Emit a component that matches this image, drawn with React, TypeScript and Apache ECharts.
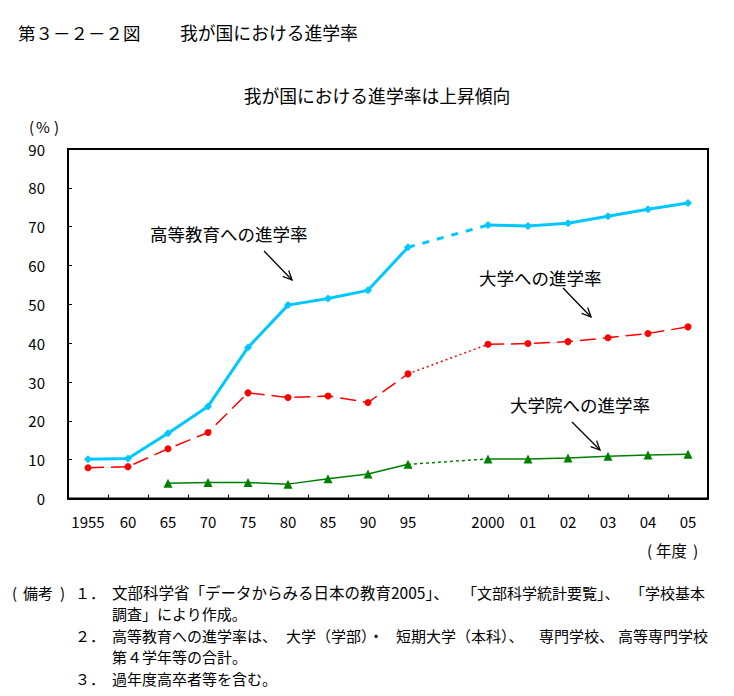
import React, { useEffect, useRef } from "react";
import * as echarts from "echarts";

const categories = ["1955", "60", "65", "70", "75", "80", "85", "90", "95", "", "2000", "01", "02", "03", "04", "05"];
const higherEducation = [10.1, 10.3, 16.8, 23.7, 38.9, 49.8, 51.5, 53.6, 64.7, null, 70.4, 70.2, 70.9, 72.7, 74.5, 76.1];
const university = [7.9, 8.2, 12.8, 17.0, 27.2, 26.0, 26.4, 24.7, 32.1, null, 39.7, 39.9, 40.4, 41.4, 42.5, 44.2];
const graduate = [null, null, 3.9, 4.1, 4.1, 3.7, 5.1, 6.3, 8.8, null, 10.2, 10.2, 10.4, 10.9, 11.2, 11.4];
const yTicks = [0, 10, 20, 30, 40, 50, 60, 70, 80, 90];

const FONT = "'Noto Sans CJK JP', 'Noto Sans', sans-serif";

// segment bridging the 1995 -> 2000 gap (index 8 -> index 10)
function gapSegment(arr: (number | null)[]) {
  return arr.map((v, i) => (i === 8 || i === 10 ? v : null));
}

function arrow(x1: number, y1: number, x2: number, y2: number) {
  const ang = Math.atan2(y2 - y1, x2 - x1);
  const len = 10;
  const a = (25 * Math.PI) / 180;
  const p1 = [x2 - len * Math.cos(ang - a), y2 - len * Math.sin(ang - a)];
  const p2 = [x2 - len * Math.cos(ang + a), y2 - len * Math.sin(ang + a)];
  return [
    { type: "line", shape: { x1, y1, x2, y2 }, style: { stroke: "#000", lineWidth: 1.3 } },
    { type: "polyline", shape: { points: [p1, [x2, y2], p2] }, style: { stroke: "#000", lineWidth: 1.3, fill: null } },
  ];
}

function txt(x: number, y: number, text: string, size: number, align: string = "left") {
  return {
    type: "text",
    x,
    y,
    style: { text, fill: "#000", font: `${size}px ${FONT}`, textAlign: align, textVerticalAlign: "middle" },
  };
}

const NS = 15;

export default function App() {
  const ref = useRef<HTMLDivElement>(null);
  useEffect(() => {
    if (!ref.current) return;
    const chart = echarts.init(ref.current, null, { renderer: "svg" });
    const option: any = {
      animation: false,
      backgroundColor: "#fff",
      grid: { left: 68, top: 149, right: 26, bottom: 197.5, show: true, borderColor: "#000", borderWidth: 2, backgroundColor: "transparent" },
      xAxis: {
        type: "category",
        data: categories,
        boundaryGap: true,
        axisLine: { show: true, lineStyle: { color: "#000", width: 2 } },
        axisTick: { show: true, inside: true, length: 4, interval: 0, lineStyle: { color: "#000", width: 1 } },
        axisLabel: { interval: 0, color: "#000", fontSize: 15, fontFamily: FONT, margin: 15 },
        splitLine: { show: false },
      },
      yAxis: {
        type: "value",
        min: yTicks[0],
        max: yTicks[yTicks.length - 1],
        interval: 10,
        axisLine: { show: true, lineStyle: { color: "#000", width: 2 } },
        axisTick: { show: true, inside: true, length: 4, lineStyle: { color: "#000", width: 1 } },
        axisLabel: { color: "#000", fontSize: 15, fontFamily: FONT, margin: 23 },
        splitLine: { show: false },
      },
      series: [
        {
          name: "高等教育への進学率",
          type: "line",
          data: higherEducation,
          connectNulls: false,
          symbol: "diamond",
          symbolSize: 8,
          itemStyle: { color: "#00C8FF" },
          lineStyle: { color: "#00C8FF", width: 3 },
          z: 5,
        },
        {
          type: "line",
          data: gapSegment(higherEducation),
          connectNulls: true,
          symbol: "none",
          lineStyle: { color: "#00C8FF", width: 3, type: [7, 8] },
          z: 4,
        },
        {
          name: "大学への進学率",
          type: "line",
          data: university,
          connectNulls: false,
          symbol: "circle",
          symbolSize: 7,
          itemStyle: { color: "#FF0000" },
          lineStyle: { color: "#FF0000", width: 1.5, type: [16, 7] },
          z: 5,
        },
        {
          type: "line",
          data: gapSegment(university),
          connectNulls: true,
          symbol: "none",
          lineStyle: { color: "#FF0000", width: 1.5, type: [2, 3] },
          z: 4,
        },
        {
          name: "大学院への進学率",
          type: "line",
          data: graduate,
          connectNulls: false,
          symbol: "triangle",
          symbolSize: 9,
          itemStyle: { color: "#008000" },
          lineStyle: { color: "#008000", width: 1.5 },
          z: 5,
        },
        {
          type: "line",
          data: gapSegment(graduate),
          connectNulls: true,
          symbol: "none",
          lineStyle: { color: "#008000", width: 1.5, type: [3, 3] },
          z: 4,
        },
      ],
      graphic: [
        txt(18, 32, "第３－２－２図", 17.5),
        txt(180, 32, "我が国における進学率", 17.8),
        txt(377, 95, "我が国における進学率は上昇傾向", 17.8, "center"),
        txt(29, 126, "(", 15),
        txt(36, 126, "%", 15),
        txt(54, 126, ")", 15),
        txt(150, 233, "高等教育への進学率", 17.5),
        ...arrow(264, 251, 292, 280),
        txt(479, 277, "大学への進学率", 17.5),
        ...arrow(563, 288, 591, 317),
        txt(510, 404, "大学院への進学率", 17.5),
        ...arrow(572, 422, 600, 450),
        txt(647, 550, "(", 15.5),
        txt(656, 550, "年度", 15.5),
        txt(693, 550, ")", 15.5),
        txt(12, 592, "(", NS),
        txt(23, 592, "備考", NS),
        txt(60, 592, ")", NS),
        txt(75, 592, "１．", NS),
        txt(112, 592, "文部科学省「データからみる日本の教育2005」、", 15.5),
        txt(462, 592, "「文部科学統計要覧」、", NS),
        txt(630, 592, "「学校基本", NS),
        txt(112, 613, "調査」により作成。", NS),
        txt(75, 635, "２．", NS),
        txt(112, 635, "高等教育への進学率は、", NS),
        txt(286, 635, "大学（学部）・", NS),
        txt(396, 635, "短期大学（本科）、", NS),
        txt(539, 635, "専門学校、", NS),
        txt(618, 635, "高等専門学校", NS),
        txt(112, 656, "第４学年等の合計。", NS),
        txt(75, 678, "３．", NS),
        txt(112, 678, "過年度高卒者等を含む。", NS),
      ],
    };
    chart.setOption(option);
    return () => chart.dispose();
  }, []);
  return <div ref={ref} style={{ position: "absolute", left: 0, top: 0, width: 734, height: 696 }} />;
}
